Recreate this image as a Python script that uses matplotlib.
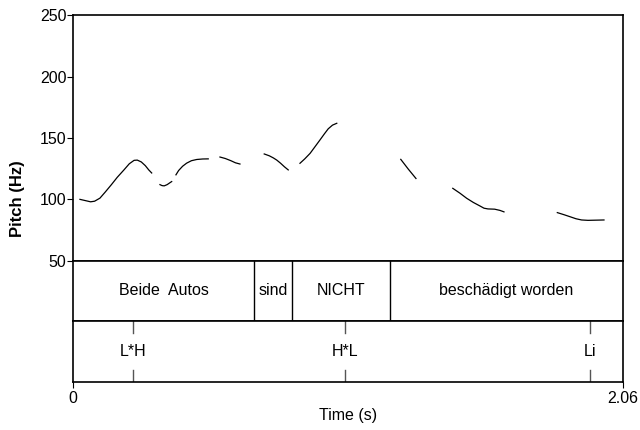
import matplotlib
matplotlib.use("Agg")
import matplotlib.pyplot as plt
import numpy as np

plt.rcParams['font.family'] = ['Liberation Sans', 'DejaVu Sans']

# pitch track, nan = unvoiced gap
pitch_t = [0.025, 0.045, 0.065, 0.080, 0.100, 0.120, 0.143, 0.165, 0.190, 0.210, 0.228,
           0.240, 0.255, 0.270, 0.283, 0.294, np.nan,
           0.325, 0.333, 0.341, 0.352, 0.362, 0.369, np.nan,
           0.385, 0.395, 0.410, 0.425, 0.443, 0.463, 0.485, 0.506, np.nan,
           0.550, 0.570, 0.591, 0.608, 0.625, np.nan,
           0.716, 0.735, 0.750, 0.763, 0.777, 0.792, 0.806, np.nan,
           0.850, 0.868, 0.888, 0.905, 0.925, 0.942, 0.956, 0.972, 0.988, np.nan,
           1.228, 1.256, 1.285, np.nan,
           1.423, 1.450, 1.475, 1.500, 1.525, 1.540, 1.555, 1.580, 1.600, 1.615, np.nan,
           1.815, 1.840, 1.862, 1.885, 1.906, 1.930, 1.950, 1.990]
pitch_hz = [100, 99, 98, 98.5, 101, 106, 112, 118, 124, 129, 131.8,
            132, 130.5, 127.5, 124, 121.5, np.nan,
            112, 111.2, 111, 112, 113.5, 114.5, np.nan,
            120, 123.5, 127, 129.5, 131.5, 132.5, 132.9, 133, np.nan,
            134.5, 133.3, 131.5, 129.8, 128.8, np.nan,
            137, 135.5, 133.8, 132, 129.5, 126.5, 124, np.nan,
            129.4, 133, 137.5, 142.5, 148.4, 153.5, 157.5, 160.5, 162, np.nan,
            132.6, 124.7, 117, np.nan,
            109, 105, 100.9, 97.5, 94.6, 92.8, 92.2, 92, 91, 89.8, np.nan,
            89.2, 87.5, 85.9, 84.2, 83.2, 82.9, 83, 83.2]

t_end = 2.06

# word tier
word_bounds = [0.0, 0.6775, 0.8197, 1.1868, t_end]
word_labels = ["Beide  Autos", "sind", "NICHT", "beschädigt worden"]

# tone tier
tone_t = [0.2233, 1.0185, 1.9377]
tone_labels = ["L*H", "H*L", "Li"]

fig = plt.figure(figsize=(6.4, 4.3), dpi=100)
left, width = 0.1145, 0.8584
ax = fig.add_axes([left, 0.3937, width, 0.5707])
tier1 = fig.add_axes([left, 0.2535, width, 0.1402])
tier2 = fig.add_axes([left, 0.1109, width, 0.1426])

fs = 11.5

ax.plot(pitch_t, pitch_hz, color="black", lw=0.9)
ax.set_xlim(0, t_end)
ax.set_ylim(50, 250)
ax.set_yticks([50, 100, 150, 200, 250])
ax.set_xticks([])
ax.tick_params(axis="y", direction="out", length=4, width=0.8, labelsize=fs, pad=1)

for a in (ax, tier1, tier2):
    for s in a.spines.values():
        s.set_linewidth(1.2)
    a.set_xlim(0, t_end)

tier1.set_ylim(0, 1)
tier1.set_xticks([])
tier1.set_yticks([])
for b in word_bounds[1:-1]:
    tier1.axvline(b, color="black", lw=1.0)
for i, lab in enumerate(word_labels):
    mid = (word_bounds[i] + word_bounds[i + 1]) / 2
    tier1.text(mid, 0.5, lab, ha="center", va="center", fontsize=fs)

tier2.set_ylim(0, 1)
tier2.set_yticks([])
for t, lab in zip(tone_t, tone_labels):
    tier2.plot([t, t], [0.8, 1.0], color="#555555", lw=1.0)
    tier2.plot([t, t], [0.0, 0.2], color="#555555", lw=1.0)
    tier2.text(t, 0.5, lab, ha="center", va="center", fontsize=fs)
tier2.set_xticks([0, t_end])
tier2.set_xticklabels(["0", "2.06"])
tier2.tick_params(axis="x", direction="out", length=4, width=0.8, labelsize=fs, pad=2)
tier2.set_xlabel("Time (s)", fontsize=fs, labelpad=2)

fig.text(0.028, 1 - 199 / 430, "Pitch (Hz)", rotation=90, ha="center", va="center",
         fontsize=12, fontweight="bold")

fig.savefig("out.png", dpi=100)
